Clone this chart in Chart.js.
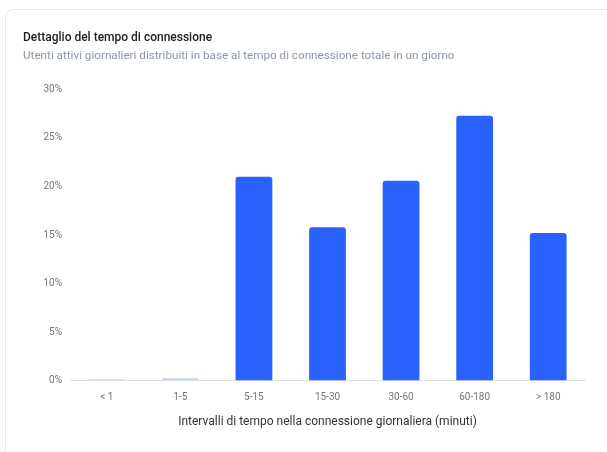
<!DOCTYPE html>
<html>
<head>
<meta charset="utf-8">
<script src="https://cdn.jsdelivr.net/npm/chart.js@4/dist/chart.umd.min.js"></script>
<style>
  html, body { margin: 0; padding: 0; background: #fff; }
  .card { position: absolute; left: 5px; top: 9px; width: 640px; height: 480px;
          border: 1px solid #e6e6e6; border-radius: 8px; }
  .wrap { position: absolute; left: 0; top: 0; width: 607px; height: 452px; }
</style>
</head>
<body>
<div class="card"></div>
<div class="wrap"><canvas id="grafico"></canvas></div>
<script>
  var intervalli = ['< 1', '1-5', '5-15', '15-30', '30-60', '60-180', '> 180'];
  var percentuali = [0.15, 0.25, 21.0, 15.8, 20.6, 27.3, 15.2];
  var tacche = [0, 5, 10, 15, 20, 25, 30];

  var blu = '#2962ff';
  var bluChiaro = '#c8d5fa';

  Chart.defaults.font.family = 'Roboto, "Noto Sans", sans-serif';

  new Chart(document.getElementById('grafico'), {
    type: 'bar',
    data: {
      labels: intervalli,
      datasets: [{
        data: percentuali,
        backgroundColor: function (ctx) { return ctx.raw < 1 ? bluChiaro : blu; },
        borderRadius: 3,
        borderSkipped: 'bottom',
        barPercentage: 0.5,
        categoryPercentage: 1
      }]
    },
    options: {
      responsive: true,
      maintainAspectRatio: false,
      animation: false,
      layout: { padding: { top: 31, right: 22, bottom: 23, left: 23 } },
      plugins: {
        legend: { display: false },
        tooltip: { enabled: false },
        title: {
          display: true, align: 'start',
          text: 'Dettaglio del tempo di connessione',
          color: '#212121',
          font: { size: 12, weight: '500' },
          padding: { top: 0, bottom: 4 }
        },
        subtitle: {
          display: true, align: 'start',
          text: 'Utenti attivi giornalieri distribuiti in base al tempo di connessione totale in un giorno',
          color: '#8a97a6',
          font: { size: 11.7 },
          padding: { top: 0, bottom: 26 }
        }
      },
      scales: {
        x: {
          grid: { display: false, drawTicks: false },
          border: { display: true, color: '#e0e0e0', width: 1 },
          ticks: { color: '#757575', font: { size: 10 }, padding: 11 },
          title: {
            display: true,
            text: 'Intervalli di tempo nella connessione giornaliera (minuti)',
            color: '#333',
            font: { size: 12 },
            padding: { top: 0, bottom: 0 }
          }
        },
        y: {
          min: 0, max: 30,
          afterBuildTicks: function (scale) {
            scale.ticks = tacche.map(function (v) { return { value: v }; });
          },
          afterFit: function (scale) { scale.width = 47; },
          grid: { display: false, drawTicks: false },
          border: { display: false },
          ticks: {
            color: '#757575', font: { size: 10 }, padding: 8,
            callback: function (v) { return v + '%'; }
          }
        }
      }
    }
  });
</script>
</body>
</html>
